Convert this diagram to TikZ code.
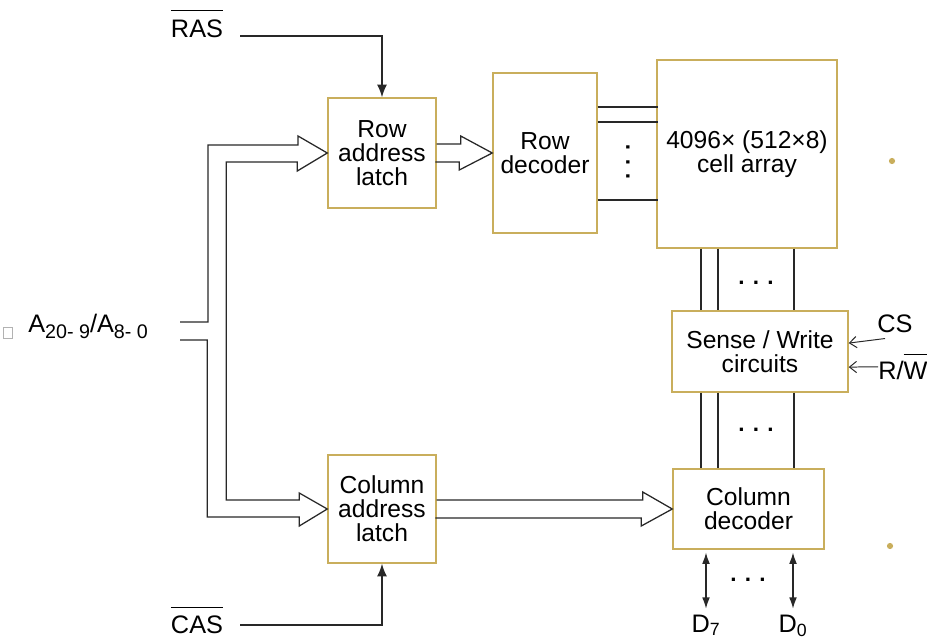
\documentclass[tikz,border=0pt]{standalone}
\usepackage{fontspec}
\setmainfont{Liberation Sans}
\usetikzlibrary{arrows.meta,positioning}
\definecolor{boxgold}{RGB}{201,174,92}
\definecolor{wireblack}{RGB}{40,40,40}
\newcommand{\notsig}[2][17pt]{$\overline{\mbox{\rule{0pt}{#1}#2}}$}
\newcommand{\lowidx}[1]{\raisebox{-4pt}{\fontsize{14}{14}\selectfont #1}}
\tikzset{
  block/.style={
    rectangle, draw=boxgold, line width=1pt, fill=white,
    align=center, inner sep=0pt, font=\fontsize{17.5}{17}\selectfont
  },
  sig label/.style={inner sep=0pt, font=\fontsize{18}{16}\selectfont},
  dot row/.style={inner sep=0pt, font=\bfseries\fontsize{16}{16}\selectfont},
  wire/.style={draw=wireblack, line width=0.9pt},
  ctrl arrow/.style={wire, -{Latex[length=9pt,width=7pt]}},
  data arrow/.style={wire, {Latex[length=8pt,width=5.5pt]}-{Latex[length=8pt,width=5.5pt]}},
  side arrow/.style={wire, line width=0.7pt, -{Straight Barb[length=5pt,width=8pt]}},
  bus/.style={wire, line join=miter}
}

\begin{document}
\begin{tikzpicture}[x=0.025cm, y=-0.025cm]
  \useasboundingbox (0,0) rectangle (927,642);
  % blocks
  \node[block, minimum width=2.7cm, minimum height=2.75cm] (rowlatch) at (382,153) {Row\\address\\latch};
  \node[block, minimum width=2.6cm, minimum height=4cm] (rowdec) at (545,153) {Row\\decoder};
  \node[block, minimum width=4.5cm, minimum height=4.7cm] (cell) at (747,154) {4096× (512×8)\\cell array};
  \node[block, minimum width=4.4cm, minimum height=2.025cm] (sense) at (760,351.5) {Sense / Write\\circuits};
  \node[block, minimum width=2.7cm, minimum height=2.7cm] (collatch) at (382,509) {Column\\address\\latch};
  \node[block, minimum width=3.775cm, minimum height=2cm] (coldec) at (748.5,509) {Column\\decoder};

  % signal labels
  \node[sig label, anchor=base] (ras) at (197,38) {\notsig[18pt]{RAS}};
  \node[sig label, anchor=base] (cas) at (197,633) {\notsig{CAS}};
  \node[sig label, anchor=base west] (addr) at (28,333) {A\lowidx{20- 9}/A\lowidx{8- 0}};
  \node[sig label, anchor=base west] (cs) at (877,333) {CS};
  \node[sig label, anchor=base west] (rw) at (878,380) {R/\notsig{W}};
  \node[sig label, anchor=base] (d7) at (706,632) {D\textsubscript{7}};
  \node[sig label, anchor=base] (d0) at (793,632) {D\textsubscript{0}};

  \coordinate (rasin) at (240,36);
  \coordinate (casin) at (240,625);
  \coordinate (busA) at (180,322);
  \coordinate (busB) at (180,340);
  \foreach \x [count=\i] in {701,718,794} \coordinate (bit\i) at (\x,0);

  % strobes
  \draw[ctrl arrow] (rasin) -| (rowlatch.north);
  \draw[ctrl arrow] (casin) -| (collatch.south);

  % address bus
  \draw[bus] (busA) -- ++(28,0) -- ++(0,-177) -- ++(90,0) -- ++(0,-9) -- (rowlatch.west)
    -- ++(-30,18) -- ++(0,-9) -- ++(-71,0) -- ++(0,338) -- ++(73,0) -- ++(0,-7) -- (collatch.west)
    -- ++(-28,17) -- ++(0,-9) -- ++(-92,0) -- ++(0,-177) -- (busB);
  \draw[bus] (rowlatch.east) ++(0,-9) -- ++(24,0) -- ++(0,-8) -- (rowdec.west)
    -- ++(-33,17) -- ++(0,-8) -- ++(-24,0);
  \draw[bus] (collatch.east) ++(0,-9) -- ++(206,0) -- ++(0,-8) -- (coldec.west)
    -- ++(-31,17) -- ++(0,-8) -- ++(-206,0);

  % word lines and bit lines
  \foreach \dy in {-46,-31,47} \draw[wire] (rowdec.east) ++(0,\dy) -- ++(60,0);
  \foreach \i in {1,2,3} {
    \draw[wire] (bit\i |- cell.south) -- (bit\i |- sense.north);
    \draw[wire] (bit\i |- sense.south) -- (bit\i |- coldec.north);
  }

  % data and control
  \draw[data arrow, shorten <=2pt, shorten >=4pt] (d7.north |- coldec.south) -- (d7.north);
  \draw[data arrow, shorten <=2pt, shorten >=4pt] (d0.north |- coldec.south) -- (d0.north);
  \draw[side arrow] (cs.south west) ++(8,5) -- ([yshift=0.21cm]sense.east);
  \draw[side arrow] (rw.west) -- ([yshift=-0.39cm]sense.east);

  \node[dot row, rotate=90] (rowdots) at (628,162) {. . .};
  \node[dot row] (celldots) at (756,283) {. . .};
  \node[dot row] (coldots) at (756,430) {. . .};
  \node[dot row] (datadots) at (748,580) {. . .};

  % slide bullets
  \fill[boxgold] (892,161) circle (2.2pt);
  \fill[boxgold] (890,546) circle (2.2pt);
  \draw[gray!60] (3,327) rectangle (12,338);
\end{tikzpicture}
\end{document}
